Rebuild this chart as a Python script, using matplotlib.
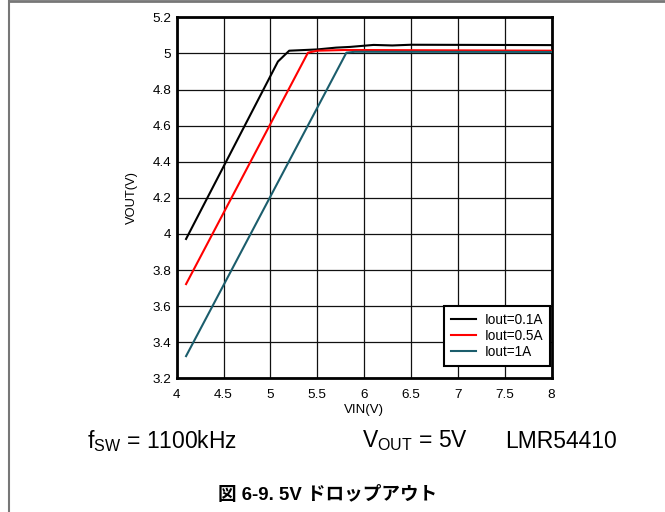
import matplotlib
matplotlib.use("Agg")
import matplotlib.pyplot as plt
from matplotlib.lines import Line2D

plt.rcParams['font.family'] = ['Liberation Sans', 'DejaVu Sans']
plt.rcParams['mathtext.fontset'] = 'custom'
plt.rcParams['mathtext.rm'] = 'Liberation Sans'
plt.rcParams['mathtext.it'] = 'Liberation Sans'

# data
vin_01 = [4.1, 5.08, 5.2, 5.5, 5.7, 5.85, 6.1, 6.3, 6.5, 8.0]
vout_01 = [3.972, 4.955, 5.015, 5.022, 5.032, 5.036, 5.047, 5.044, 5.048, 5.046]
vin_05 = [4.1, 5.4, 5.5, 5.8, 8.0]
vout_05 = [3.722, 5.004, 5.015, 5.019, 5.015]
vin_1 = [4.1, 5.81, 5.9, 8.0]
vout_1 = [3.323, 5.004, 5.009, 5.008]
series_labels = ['Iout=0.1A', 'Iout=0.5A', 'Iout=1A']
series_colors = ['#000000', '#ff0000', '#1b5d6c']

xticks = [4, 4.5, 5, 5.5, 6, 6.5, 7, 7.5, 8]
xtick_labels = ['4', '4.5', '5', '5.5', '6', '6.5', '7', '7.5', '8']
yticks = [3.2, 3.4, 3.6, 3.8, 4.0, 4.2, 4.4, 4.6, 4.8, 5.0, 5.2]
ytick_labels = ['3.2', '3.4', '3.6', '3.8', '4', '4.2', '4.4', '4.6', '4.8', '5', '5.2']

fig = plt.figure(figsize=(6.65, 5.12), dpi=100)
ax = fig.add_axes([0.2657, 0.2611, 0.5639, 0.7051])

for xs, ys, lab, col in zip([vin_01, vin_05, vin_1], [vout_01, vout_05, vout_1],
                            series_labels, series_colors):
    ax.plot(xs, ys, color=col, lw=1.5, label=lab, zorder=3)

ax.set_xlim(4, 8)
ax.set_ylim(3.2, 5.2)
ax.set_xticks(xticks)
ax.set_xticklabels(xtick_labels)
ax.set_yticks(yticks)
ax.set_yticklabels(ytick_labels)
ax.tick_params(length=0, labelsize=9.7)
ax.tick_params(axis='x', pad=8)
ax.tick_params(axis='y', pad=4)
ax.grid(True, color='#111111', lw=0.9)
for s in ax.spines.values():
    s.set_linewidth(2)
ax.set_xlabel('VIN(V)', fontsize=9.5, labelpad=1.5)
ax.set_ylabel('VOUT(V)', fontsize=9.3, labelpad=10)

leg = ax.legend(loc='lower right', bbox_to_anchor=(0.995, 0.034), fontsize=9.8,
                fancybox=False, framealpha=1, borderaxespad=0, handlelength=1.85,
                labelspacing=0.15, borderpad=0.5, handletextpad=0.6)
leg.get_frame().set_edgecolor('black')
leg.get_frame().set_linewidth(1.5)

fig.text(87 / 665, 1 - 441 / 512, r'f$_{\mathrm{SW}}$ = 1100kHz', fontsize=16.5, va='center')
fig.text(362 / 665, 1 - 441 / 512, r'V$_{\mathrm{OUT}}$ = 5V', fontsize=16.5, va='center')
fig.text(505 / 665, 1 - 441 / 512, 'LMR54410', fontsize=16.5, va='center')
fig.text(328 / 665, 1 - 495 / 512, '図 6-9. 5V ドロップアウト', fontsize=13.4, fontweight='bold',
         ha='center', va='center', family=['Liberation Sans', 'Noto Sans CJK JP'])

# page frame
fig.add_artist(Line2D([8.5 / 665, 8.5 / 665], [0, 1], color='#777777', lw=1.5))
fig.add_artist(Line2D([8.5 / 665, 1], [1 - 1 / 512, 1 - 1 / 512], color='#777777', lw=2))

fig.savefig('out.png', dpi=100)
